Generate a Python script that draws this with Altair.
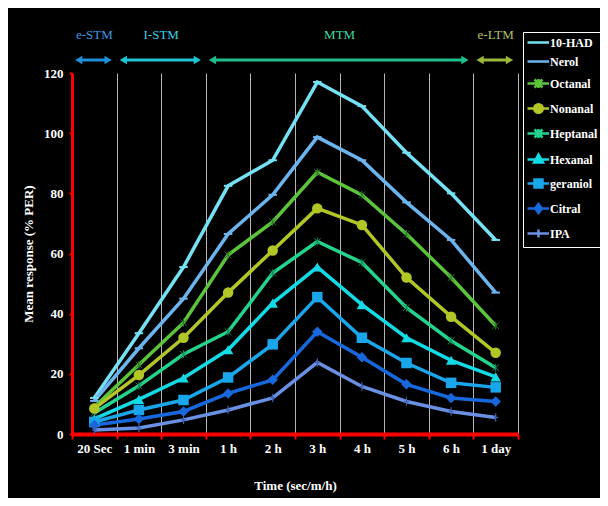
import altair as alt
import pandas as pd

# ---------------- data ----------------
categories = ["20 Sec", "1 min", "3 min", "1 h", "2 h", "3 h", "4 h", "5 h", "6 h", "1 day"]

series_names = ["10-HAD", "Nerol", "Octanal", "Nonanal", "Heptanal",
                "Hexanal", "geraniol", "Citral", "IPA"]

had10    = [12, 33.5, 55.5, 82.5, 91, 117, 109, 93.5, 80, 64.5]
nerol    = [11, 28.5, 45, 66.5, 79.5, 98.7, 91, 77, 64.5, 47]
octanal  = [9, 23, 37, 59.5, 70.5, 87, 79.5, 66.5, 52, 36]
nonanal  = [8.5, 19.6, 32, 47, 61, 75, 69.5, 52, 39, 27]
heptanal = [7, 16, 26.5, 34, 53.5, 64, 57, 42, 31, 22]
hexanal  = [5, 11.5, 18.6, 28, 43.5, 55.5, 43, 32, 24.5, 19]
geraniol = [4, 8, 11.3, 18.8, 29.8, 45.5, 32, 23.6, 17, 15.5]
citral   = [3, 5, 7.5, 13.5, 18, 34, 25.5, 16.5, 12, 10.8]
ipa      = [1.3, 2, 4.7, 8, 12, 23.8, 15.8, 10.8, 7.5, 5.5]

series_values = [had10, nerol, octanal, nonanal, heptanal, hexanal, geraniol, citral, ipa]

series_colors = ["#74e2f4", "#6cb4ee", "#5cc43a", "#b2c626", "#22d48e",
                 "#12dbe6", "#1aa6ea", "#1668dc", "#6a90e4"]

phases = ["e-STM", "I-STM", "MTM", "e-LTM"]
phase_start = ["20 Sec", "1 min", "1 h", "1 day"]
phase_end = ["20 Sec", "3 min", "6 h", "1 day"]
phase_label_at = ["20 Sec", "3 min", "4 h", "1 day"]
phase_label_mid = [True, False, False, True]
phase_arrow_colors = ["#1e8fd8", "#1fc3d3", "#1dbf8c", "#9cb83a"]
phase_text_colors = ["#3b9be0", "#3ecfe0", "#40d9a6", "#b4c263"]

# legend symbols: line through a marker (unit coordinates)
legend_paths = [
    "M-2.2,0H2.1",
    "M-2.2,0H2.1",
    "M-2.2,0H2.1M-0.8,-0.8L0.8,0.8M-0.8,0.8L0.8,-0.8M0,-0.9V0.9",
    "M-2.2,0H2.1M-0.85,0A0.85,0.85 0 1,0 0.85,0A0.85,0.85 0 1,0 -0.85,0Z",
    "M-2.2,0H2.1M-0.8,-0.8L0.8,0.8M-0.8,0.8L0.8,-0.8M0,-0.9V0.9",
    "M-2.2,0H2.1M0,-1L0.9,0.6H-0.9Z",
    "M-2.2,0H2.1M-0.8,-0.8H0.8V0.8H-0.8Z",
    "M-2.2,0H2.1M0,-0.9L0.7,0L0,0.9L-0.7,0Z",
    "M-2.2,0H2.1M0,-0.8V0.8",
]

rows = []
for s, vals in zip(series_names, series_values):
    for i, (c, v) in enumerate(zip(categories, vals)):
        rows.append({"series": s, "time": c, "idx": i, "value": v})
df = pd.DataFrame(rows)

ph = pd.DataFrame({
    "phase": phases, "start": phase_start, "end": phase_end,
    "label_at": phase_label_at, "mid": phase_label_mid,
    "acolor": phase_arrow_colors, "tcolor": phase_text_colors,
})

FONT = "Liberation Serif"

color_scale = alt.Scale(domain=series_names, range=series_colors)
xs = alt.Scale(domain=categories, paddingInner=0, paddingOuter=0)
ys = alt.Scale(domain=[0, 120])

x_enc = alt.X("time:N", sort=categories, scale=xs,
              title="Time (sec/m/h)",
              axis=alt.Axis(labelAngle=0, tickBand="extent", grid=True,
                            gridColor="#b5b5b5", gridWidth=1,
                            domainColor="#ff0000", domainWidth=4,
                            tickColor="#ff0000", tickWidth=2, tickSize=5,
                            labelPadding=3, titlePadding=24))
y_enc = alt.Y("value:Q", scale=ys, title="Mean response (% PER)",
              axis=alt.Axis(values=[0, 20, 40, 60, 80, 100, 120], grid=False,
                            domainColor="#ff0000", domainWidth=3,
                            tickColor="#ff0000", tickWidth=2, tickSize=3,
                            labelPadding=6, titlePadding=8))

base = alt.Chart(df)

# legend-only layer (no data drawn)
legend_layer = base.transform_filter("datum.value < -1000").mark_point(
    filled=True, strokeWidth=2.5, opacity=1
).encode(
    x=x_enc, y=y_enc,
    color=alt.Color("series:N", scale=color_scale,
                    legend=alt.Legend(
                        title=None, orient="none", legendX=451, legendY=-41,
                        strokeColor="#ffffff", fillColor="#000000",
                        padding=4, rowPadding=6,
                        labelColor="#ffffff", labelFont=FONT,
                        labelFontSize=12, labelFontWeight="bold",
                        symbolSize=100, symbolStrokeWidth=2.5,
                        symbolOffset=5, labelOffset=5)),
    stroke=alt.Stroke("series:N", scale=color_scale),
    shape=alt.Shape("series:N", scale=alt.Scale(domain=series_names, range=legend_paths)),
)

lines = base.mark_line(strokeWidth=3.5).encode(
    x=x_enc, y=y_enc,
    color=alt.Color("series:N", scale=color_scale),
    order=alt.Order("idx:Q"),
)


def pts(names, **kw):
    return base.transform_filter(
        alt.FieldOneOfPredicate(field="series", oneOf=names)
    ).mark_point(**kw).encode(x=x_enc, y=y_enc,
                              color=alt.Color("series:N", scale=color_scale))


def pts_fixed(names, **kw):
    return base.transform_filter(
        alt.FieldOneOfPredicate(field="series", oneOf=names)
    ).mark_point(**kw).encode(x=x_enc, y=y_enc)


m_dash = pts(["10-HAD", "Nerol"], shape="M-1.2,0H1.2", filled=False, size=50, strokeWidth=2, opacity=1)
m_star1 = pts_fixed(["Octanal"], shape="M-1,-1L1,1M-1,1L1,-1M0,-1.2V1.2", filled=False,
                    size=45, strokeWidth=1, stroke="#2a7a2a", opacity=1)
m_star2 = pts_fixed(["Heptanal"], shape="M-1,-1L1,1M-1,1L1,-1M0,-1.2V1.2", filled=False,
                    size=45, strokeWidth=1, stroke="#138858", opacity=1)
m_circ = pts(["Nonanal"], shape="circle", filled=True, size=110, opacity=1)
m_tri = pts(["Hexanal"], shape="triangle-up", filled=True, size=110, opacity=1)
m_sq = pts(["geraniol"], shape="square", filled=True, size=110, opacity=1)
m_dia = pts(["Citral"], shape="diamond", filled=True, size=110, opacity=1)
m_plus = pts_fixed(["IPA"], shape="M0,-1.2V1.2M-0.7,0H0.7", filled=False, size=50,
                   strokeWidth=1.2, stroke="#3d60b4", opacity=1)

# top phase arrows
pbase = alt.Chart(ph)
px_scale = xs
arrow_rules = pbase.mark_rule(strokeWidth=3).encode(
    x=alt.X("start:N", sort=categories, scale=px_scale, bandPosition=0.15),
    x2=alt.X2("end:N", bandPosition=0.81),
    y=alt.value(-13),
    color=alt.Color("acolor:N", scale=None, legend=None),
)
head_left = pbase.mark_point(shape="triangle-left", filled=True, size=70, opacity=1).encode(
    x=alt.X("start:N", sort=categories, scale=px_scale, bandPosition=0.15),
    y=alt.value(-13),
    color=alt.Color("acolor:N", scale=None, legend=None),
)
head_right = pbase.mark_point(shape="triangle-right", filled=True, size=70, opacity=1).encode(
    x=alt.X("end:N", sort=categories, scale=px_scale, bandPosition=0.81),
    y=alt.value(-13),
    color=alt.Color("acolor:N", scale=None, legend=None),
)
label_mid = pbase.transform_filter("datum.mid").mark_text(
    font=FONT, fontSize=13, baseline="middle"
).encode(
    x=alt.X("label_at:N", sort=categories, scale=px_scale, bandPosition=0.5),
    y=alt.value(-38),
    text="phase:N",
    color=alt.Color("tcolor:N", scale=None, legend=None),
)
label_edge = pbase.transform_filter("!datum.mid").mark_text(
    font=FONT, fontSize=13, baseline="middle"
).encode(
    x=alt.X("label_at:N", sort=categories, scale=px_scale, bandPosition=0),
    y=alt.value(-38),
    text="phase:N",
    color=alt.Color("tcolor:N", scale=None, legend=None),
)

chart = alt.layer(
    legend_layer, lines,
    m_dash, m_star1, m_star2, m_circ, m_tri, m_sq, m_dia, m_plus,
    arrow_rules, head_left, head_right, label_mid, label_edge,
).properties(
    width=446, height=361,
    autosize=alt.AutoSizeParams(type="none"),
    padding={"left": 64, "top": 65, "right": 82, "bottom": 64},
    background="#000000",
).configure_view(
    stroke=None
).configure_axis(
    labelColor="#ffffff", titleColor="#ffffff",
    labelFont=FONT, titleFont=FONT,
    labelFontSize=13, labelFontWeight="bold",
    titleFontSize=13, titleFontWeight="bold",
)

chart.save("out.html", embed_options={"renderer": "svg", "actions": False})
